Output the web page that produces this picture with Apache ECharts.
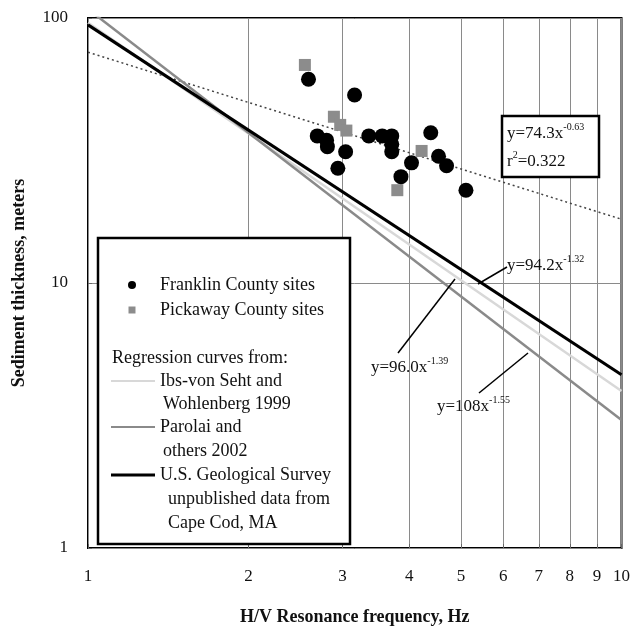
<!DOCTYPE html>
<html><head><meta charset="utf-8">
<script src="https://cdn.jsdelivr.net/npm/echarts@6/dist/echarts.min.js"></script>
<style>html,body{margin:0;padding:0;background:#fff}#c{width:633px;height:634px}</style>
</head><body><div id="c"></div>
<script>
// Tick values
const xTicks = [1, 2, 3, 4, 5, 6, 7, 8, 9, 10];
const yTicks = [1, 10, 100];

// Franklin County sites: [frequency Hz, thickness m]
const franklin = [
  [2.59, 58.7], [3.16, 51.2], [2.69, 35.9], [2.80, 34.6], [2.81, 32.7],
  [3.04, 31.3], [2.94, 27.1], [3.36, 35.9], [3.56, 35.9], [3.71, 35.9],
  [3.71, 33.4], [3.71, 31.3], [4.04, 28.4], [3.86, 25.2], [4.39, 36.9],
  [4.54, 30.1], [4.70, 27.7], [5.11, 22.4]
];
// Pickaway County sites
const pickaway = [
  [2.55, 66.5], [2.89, 42.4], [2.97, 39.5], [3.05, 37.6], [4.22, 31.5], [3.80, 22.4]
];

// Regression curve endpoints (x = 1 and x = 10)
const fitLine = [[1, 74.3], [10, 17.4]];        // y=74.3x^-0.63
const ibsLine = [[1, 96.0], [10, 3.91]];        // y=96.0x^-1.39
const parolaiLine = [[1, 108], [10, 3.04]];     // y=108x^-1.55
const usgsLine = [[1, 94.2], [10, 4.51]];       // y=94.2x^-1.32

const FONT = '"Liberation Serif", "DejaVu Serif", serif';
const chart = echarts.init(document.getElementById('c'));

const sup = { sup: { fontSize: 10, fontFamily: FONT, verticalAlign: 'top', padding: [0, 0, 13, 0], color: '#111' } };

function txt(x, y, s) {
  return {
    type: 'text', x: x, y: y, z: 101,
    style: { text: s, rich: sup, fontFamily: FONT, fontSize: 18, fill: '#111', verticalAlign: 'middle' }
  };
}
function eq(x, y, s) {
  return {
    type: 'text', x: x, y: y, z: 101,
    style: { text: s, rich: sup, fontFamily: FONT, fontSize: 17, fill: '#111', verticalAlign: 'middle' }
  };
}
function ln(x1, y1, x2, y2, color, w) {
  return { type: 'line', z: 101, shape: { x1, y1, x2, y2 }, style: { stroke: color, lineWidth: w } };
}

chart.setOption({
  animation: false,
  backgroundColor: '#fff',
  grid: { left: 88, right: 11, top: 18, bottom: 86, show: true, borderColor: '#000', borderWidth: 2, backgroundColor: 'transparent' },
  xAxis: {
    type: 'log', logBase: 10, min: 1, max: 10,
    name: 'H/V Resonance frequency, Hz', nameLocation: 'middle', nameGap: 60,
    nameTextStyle: { fontFamily: FONT, fontSize: 18, fontWeight: 'bold', color: '#111' },
    axisLine: { show: false },
    axisTick: { show: true, inside: true, length: 4, customValues: xTicks, lineStyle: { color: '#666' } },
    axisLabel: { customValues: xTicks, fontFamily: FONT, fontSize: 17, color: '#111', margin: 20 },
    splitLine: { show: true, lineStyle: { color: '#8a8a8a', width: 1 } },
    minorTick: { show: false }, minorSplitLine: { show: false }
  },
  yAxis: {
    type: 'log', logBase: 10, min: 1, max: 100,
    name: 'Sediment thickness, meters', nameLocation: 'middle', nameGap: 60,
    nameTextStyle: { fontFamily: FONT, fontSize: 18, fontWeight: 'bold', color: '#111' },
    axisLine: { show: false },
    axisTick: { show: true, inside: true, length: 4, customValues: yTicks, lineStyle: { color: '#666' } },
    axisLabel: { customValues: yTicks, fontFamily: FONT, fontSize: 17, color: '#111', margin: 20 },
    splitLine: { show: true, lineStyle: { color: '#8a8a8a', width: 1 } }
  },
  series: [
    { name: 'fit', type: 'line', data: fitLine, symbol: 'none', z: 3,
      lineStyle: { color: '#444', width: 1.5, type: [2, 3] } },
    { name: 'Ibs-von Seht', type: 'line', data: ibsLine, symbol: 'none', z: 4,
      lineStyle: { color: '#d8d8d8', width: 2.5 } },
    { name: 'Parolai', type: 'line', data: parolaiLine, symbol: 'none', z: 4,
      lineStyle: { color: '#8a8a8a', width: 2.5 } },
    { name: 'USGS', type: 'line', data: usgsLine, symbol: 'none', z: 5,
      lineStyle: { color: '#000', width: 3 } },
    { name: 'Pickaway County sites', type: 'scatter', data: pickaway, symbol: 'rect', symbolSize: 12, z: 6,
      itemStyle: { color: '#8c8c8c', opacity: 1 } },
    { name: 'Franklin County sites', type: 'scatter', data: franklin, symbol: 'circle', symbolSize: 15, z: 7,
      itemStyle: { color: '#000', opacity: 1 } }
  ],
  graphic: [
    // legend box
    { type: 'rect', z: 100, shape: { x: 98, y: 238, width: 252, height: 306 },
      style: { fill: '#fff', stroke: '#000', lineWidth: 2.5 } },
    { type: 'circle', z: 101, shape: { cx: 132, cy: 285, r: 4 }, style: { fill: '#000' } },
    txt(160, 285, 'Franklin County sites'),
    { type: 'rect', z: 101, shape: { x: 128.5, y: 306.5, width: 7, height: 7 }, style: { fill: '#8c8c8c' } },
    txt(160, 310, 'Pickaway County sites'),
    txt(112, 358, 'Regression curves from:'),
    ln(111, 381, 155, 381, '#d8d8d8', 2),
    txt(160, 381, 'Ibs-von Seht and'),
    txt(163, 404, 'Wohlenberg 1999'),
    ln(111, 427, 155, 427, '#8a8a8a', 2),
    txt(160, 427, 'Parolai and'),
    txt(163, 451, 'others 2002'),
    ln(111, 475, 155, 475, '#000', 3),
    txt(160, 475, 'U.S. Geological Survey'),
    txt(168, 499, 'unpublished data from'),
    txt(168, 523, 'Cape Cod, MA'),
    // fit annotation box
    { type: 'rect', z: 100, shape: { x: 502, y: 116, width: 97, height: 61 },
      style: { fill: '#fff', stroke: '#000', lineWidth: 2.5 } },
    eq(507, 134, 'y=74.3x{sup|-0.63}'),
    eq(507, 162, 'r{sup|2}=0.322'),
    // regression labels
    ln(478, 284, 507, 267, '#000', 1.5),
    eq(507, 266, 'y=94.2x{sup|-1.32}'),
    ln(398, 353, 455, 279, '#000', 1.5),
    eq(371, 368, 'y=96.0x{sup|-1.39}'),
    ln(479, 393, 528, 353, '#000', 1.5),
    eq(437, 407, 'y=108x{sup|-1.55}')
  ]
});
</script>
</body></html>
